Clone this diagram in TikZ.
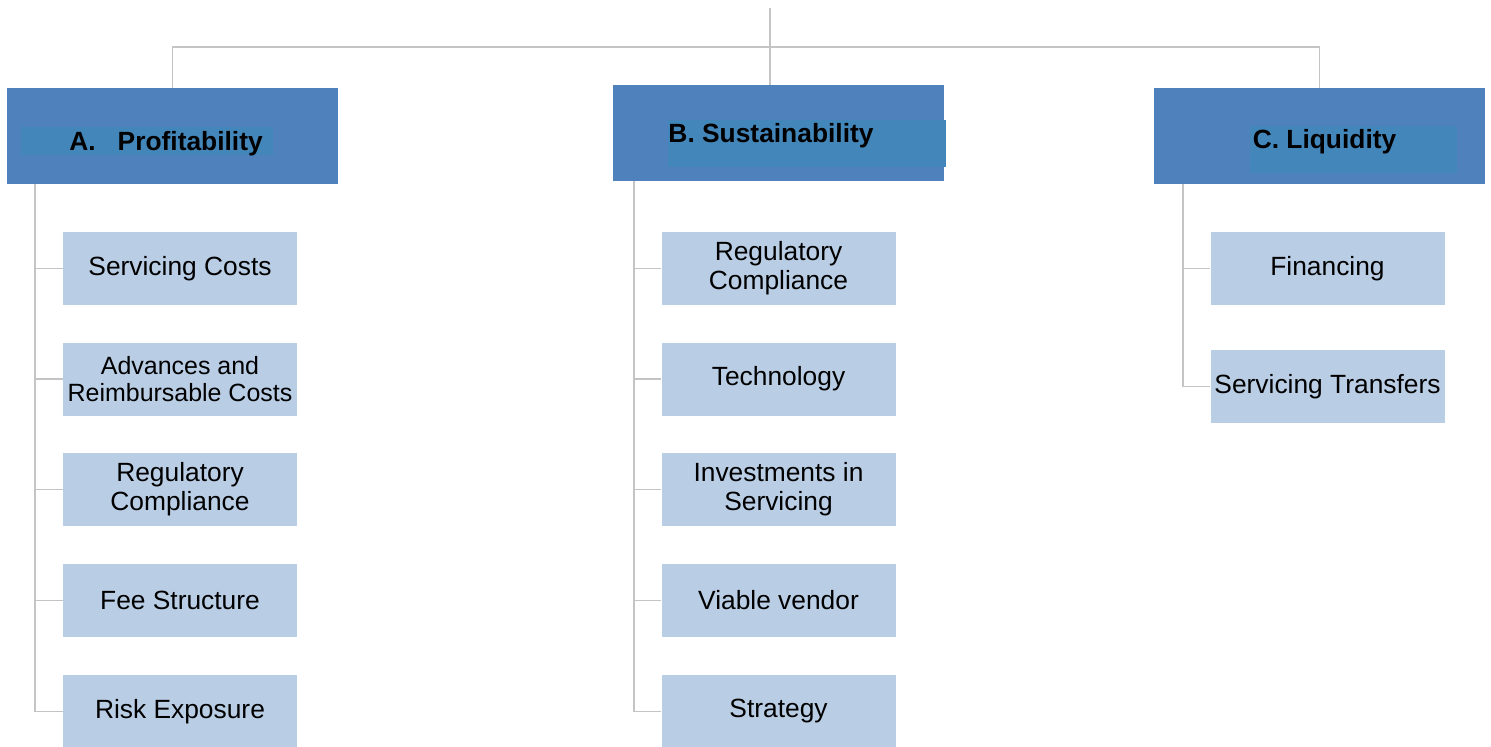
\documentclass[tikz,border=0pt]{standalone}
\usepackage{fontspec}
\setmainfont{Liberation Sans}
\usepackage{xcolor}
\definecolor{hdblue}{HTML}{4F81BD}
\definecolor{hdin}{HTML}{4386BA}
\definecolor{subblue}{HTML}{B9CDE5}
\definecolor{linegray}{HTML}{C4C4C4}

\begin{document}
\begin{tikzpicture}[x=0.2mm,y=-0.2mm,
    head box/.style={fill=hdblue,minimum width=66.2mm,minimum height=19.2mm,inner sep=0pt},
    head text/.style={inner sep=0pt,anchor=base,font=\bfseries\fontsize{15}{18}\selectfont},
    sub node/.style={fill=subblue,minimum width=46.8mm,minimum height=14.6mm,inner sep=0pt,align=center,font=\fontsize{15}{16.5}\selectfont},
    link/.style={draw=linegray,line width=0.35mm}]
    \useasboundingbox (0,0) rectangle (1491,747);

    % headers
    \node[head box] (A) at (172.5,136) {};
    \fill[hdin] (21,127) rectangle (273,155);
    \node[head text] (Atext) at (166,150) {A.\hspace{0.84em}Profitability};

    \node[head box] (B) at (778.5,133) {};
    \fill[hdin] (668,120) rectangle (946,167);
    \node[head text] (Btext) at (771,142) {B. Sustainability};

    \node[head box] (C) at (1319.5,136) {};
    \fill[hdin] (1250,126) rectangle (1457,173);
    \node[head text] (Ctext) at (1324.5,148) {C. Liquidity};

    % A children
    \node[sub node] (a1) at (180,268.5) {Servicing Costs};
    \node[sub node,font=\fontsize{14.2}{15.5}\selectfont] (a2) at (180,379) {Advances and\\Reimbursable Costs};
    \node[sub node] (a3) at (180,489.5) {Regulatory\\Compliance};
    \node[sub node] (a4) at (180,600.5) {Fee Structure};
    \node[sub node] (a5) at (180,711.5) {Risk Exposure};

    % B children
    \node[sub node] (b1) at (778.5,268.5) {Regulatory\\Compliance};
    \node[sub node] (b2) at (778.5,379) {Technology};
    \node[sub node] (b3) at (778.5,489.5) {Investments in\\Servicing};
    \node[sub node] (b4) at (778.5,600.5) {Viable vendor};
    \node[sub node] (b5) at (778.5,711.5) {Strategy};

    % C children
    \node[sub node] (c1) at (1327.5,268.5) {Financing};
    \node[sub node] (c2) at (1327.5,386.5) {Servicing Transfers};

    % connectors
    \coordinate (top) at (770,8);
    \draw[link] (top) -- (top |- B.north);
    \draw[link] (A.north) -- ++(0,-41) -| (C.north);

    \coordinate (atrunk) at (35,184);
    \coordinate (btrunk) at (634,181);
    \coordinate (ctrunk) at (1183,184);
    \draw[link] (atrunk) -- (atrunk |- a5.west);
    \draw[link] (btrunk) -- (btrunk |- b5.west);
    \draw[link] (ctrunk) -- (ctrunk |- c2.west);
    \foreach \i in {1,...,5} {
        \draw[link] (atrunk |- a\i.west) -- (a\i.west);
        \draw[link] (btrunk |- b\i.west) -- (b\i.west);
    }
    \foreach \i in {1,2}
        \draw[link] (ctrunk |- c\i.west) -- (c\i.west);
\end{tikzpicture}
\end{document}
